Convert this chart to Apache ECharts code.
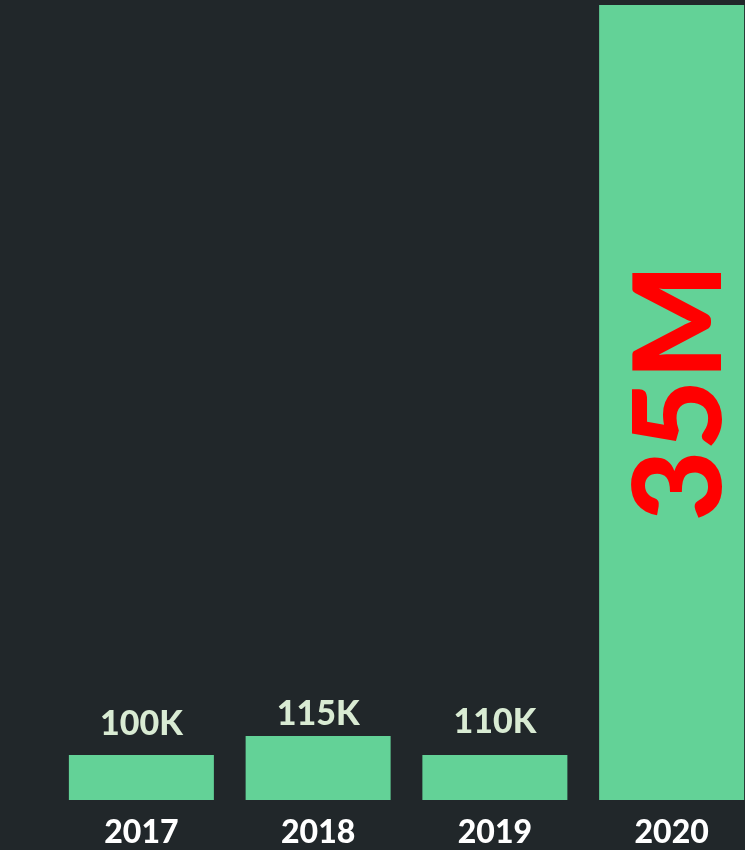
<!DOCTYPE html>
<html>
<head>
<meta charset="utf-8">
<script src="https://cdn.jsdelivr.net/npm/echarts@6/dist/echarts.min.js"></script>
<style>
html,body{margin:0;padding:0;background:#21272a;}
#chart{width:745px;height:850px;}
</style>
</head>
<body>
<div id="chart"></div>
<script>
// Categories (years)
var years = ['2017', '2018', '2019', '2020'];
// Reported values (shown as labels)
var values = [100000, 115000, 110000, 35000000];
// Drawn bar heights as they appear in the infographic (not to scale with values)
var barHeights = [45, 64, 45, 795];

function fmt(v) {
  if (v >= 1000000) return Math.round(v / 1000000) + 'M';
  return Math.round(v / 1000) + 'K';
}

var labelGaps = [14, 5, 16, 0];

var seriesData = barHeights.map(function (h, i) {
  var item = { value: h, label: { distance: labelGaps[i] } };
  if (i === 3) {
    item.label = {
      position: 'inside',
      rotate: 90,
      color: '#ff0000',
      fontSize: 122,
      fontWeight: 900,
      offset: [10, 10]
    };
  }
  return item;
});

var chart = echarts.init(document.getElementById('chart'));
chart.setOption({
  backgroundColor: '#21272a',
  animation: false,
  grid: { left: 53, width: 707, top: 5, height: 795, containLabel: false, outerBoundsMode: 'none' },
  xAxis: {
    type: 'category',
    data: years,
    axisLine: { show: false },
    axisTick: { show: false },
    axisLabel: {
      color: '#ffffff',
      fontFamily: 'Lato',
      fontWeight: 900,
      fontSize: 32,
      margin: 17
    }
  },
  yAxis: {
    type: 'value',
    min: 0,
    max: 795,
    show: false,
    splitLine: { show: false }
  },
  series: [{
    type: 'bar',
    data: seriesData,
    barWidth: 145,
    itemStyle: { color: '#63d297' },
    label: {
      show: true,
      position: 'top',
      distance: 14,
      color: '#d9ebd3',
      fontFamily: 'Lato',
      fontWeight: 900,
      fontSize: 34,
      formatter: function (p) { return fmt(values[p.dataIndex]); }
    }
  }]
});
</script>
</body>
</html>
